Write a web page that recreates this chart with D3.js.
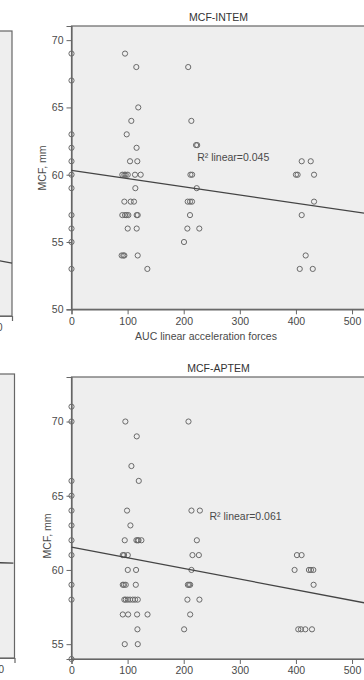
<!DOCTYPE html>
<html>
<head>
<meta charset="utf-8">
<script src="https://cdn.jsdelivr.net/npm/d3@7"></script>
<style>
  body { margin: 0; background: #fff; }
  svg { display: block; font-family: "Liberation Sans", Arial, sans-serif; }
</style>
</head>
<body>
<div id="chart"></div>
<script>
// MCF vs AUC linear acceleration forces (x, MCF mm)
var intemPoints = [
  [0,69],[0,67],[0,63],[0,62],[0,61],[0,60],[0,59],[0,57],[0,56],[0,55],[0,53],
  [95.4,69],[115.5,68],[119,65],[106.6,64],[98.4,63],[116,62],[104.3,61],[117.3,61],
  [90.6,60],[94.2,60],[96.6,60],[100.2,60],[113.2,60],[123.3,60],
  [113.8,59],[94.2,58],[105.5,58],[111.4,58],
  [90.6,57],[95.4,57],[98.4,57],[101.3,57],[116.2,57],[118,57],
  [100.2,56],[116.2,56],[89.4,54],[92.4,54],[94.2,54],[118,54],[135.2,53],
  [208,68],[213.6,64],[222,62.2],[224,62.2],[212,60],[215,60],[223.2,59],
  [207.1,58],[211.2,58],[214.8,58],[211.2,57],[206.5,56],[227.8,56],[200.5,55],
  [410.3,61],[426.4,61],[400,60],[403,60],[432.3,60],[432.3,58],[410.3,57],
  [417.4,54],[406.8,53],[430,53]
];
var aptemPoints = [
  [0,71],[0,70],[0,66],[0,65],[0,64],[0,63],[0,62],[0,61],[0,59],[0,58],[0,54],
  [96,70],[208.5,70],[116.3,69],[106.8,67],[119.9,66],[99,64],[213.8,64],[228.8,64],
  [105,63],[94.9,62],[115.7,62],[118.1,62],[119.5,62],[124.6,62],[223.4,62],
  [91.4,61],[93.7,61],[100.3,61],[215.6,61],[227,61],
  [100.3,60],[115.1,60],[213.8,60],
  [91.4,59],[93.5,59],[96.7,59],[114.6,59],[207.4,59],[209.5,59],[211.5,59],
  [94.2,58],[96.7,58],[100.3,58],[104.4,58],[109.2,58],[113.3,58],[118.1,58],[206.6,58],[228,58],
  [91.4,57],[100.9,57],[116.9,57],[135.5,57],[211.5,57],
  [117.5,56],[200.7,56],[94.9,55],[118.1,55],
  [401.8,61],[410.1,61],[397.6,60],[423.2,60],[426.8,60],[431,60],[431.5,59],
  [404.2,56],[409,56],[416.7,56],[428.6,56]
];
// linear fit endpoints [x, MCF]
var intemFit = [[0,60.32],[524,57.13]];
var aptemFit = [[0,61.54],[524,57.77]];
var xTicks = [0,100,200,300,400,500];
var intemTicks = [50,55,60,65,70];
var aptemTicks = [55,60,65,70];
// neighbouring panels cut off at the left edge
var leftTicks = [500];
var leftFitTop = [[480,54.3],[534,53.9]];
var leftFitBottom = [[480,60.4],[534,60.35]];

var W = 364, H = 680;
var svg = d3.select("#chart").append("svg").attr("width", W).attr("height", H);

var axisCol = "#666", textCol = "#4a4a4a", bg = "#eeeeee";

function drawPanel(p) {
  var x = d3.scaleLinear().domain([0, p.xMax]).range([p.left, p.right]);
  var y = d3.scaleLinear().domain(p.yDomain).range([p.bottom, p.top]);
  var g = svg.append("g");

  g.append("rect").attr("x", p.left).attr("y", p.top)
    .attr("width", p.right - p.left).attr("height", p.bottom - p.top)
    .attr("fill", bg).attr("stroke", axisCol).attr("stroke-width", 1.2);

  if (p.title) {
    g.append("text").attr("x", (p.left + p.right) / 2).attr("y", p.top - 5)
      .attr("text-anchor", "middle").attr("font-size", 10.5).attr("fill", "#333")
      .text(p.title);
  }

  var xa = g.append("g").attr("transform", "translate(0," + p.bottom + ")")
    .call(d3.axisBottom(x).tickValues(p.xTicks).tickSize(5).tickPadding(3));
  var ya = g.append("g").attr("transform", "translate(" + p.left + ",0)")
    .call(d3.axisLeft(y).tickValues(p.yTicks).tickSize(5).tickPadding(3));
  [xa, ya].forEach(function (a) {
    a.select(".domain").attr("stroke", axisCol).attr("stroke-width", 1.2);
    a.selectAll(".tick line").attr("stroke", axisCol).attr("stroke-width", 1);
    a.selectAll(".tick text").attr("fill", textCol).attr("font-size", 10.5)
      .attr("font-family", "Liberation Sans, Arial, sans-serif");
  });

  if (p.points) {
    g.append("g").selectAll("circle").data(p.points).join("circle")
      .attr("cx", function (d) { return x(d[0]); })
      .attr("cy", function (d) { return y(d[1]); })
      .attr("r", 2.6).attr("fill", "none").attr("stroke", "#6a6a6a").attr("stroke-width", 1);
  }

  var line = d3.line().x(function (d) { return x(d[0]); }).y(function (d) { return y(d[1]); });
  g.append("path").attr("d", line(p.fit)).attr("fill", "none")
    .attr("stroke", "#444").attr("stroke-width", 1.3);

  if (p.r2) {
    g.append("text").attr("x", x(p.r2At[0])).attr("y", y(p.r2At[1]))
      .attr("font-size", 10.5).attr("fill", textCol).text(p.r2);
  }
  if (p.yLabel) {
    g.append("text").attr("transform", "translate(" + p.yLabelX + "," + p.yLabelY + ") rotate(-90)")
      .attr("text-anchor", "middle").attr("dy", "0.35em")
      .attr("font-size", 10.5).attr("fill", textCol).text(p.yLabel);
  }
  if (p.xLabel) {
    g.append("text").attr("x", 206).attr("y", p.bottom + 31)
      .attr("text-anchor", "middle").attr("font-size", 10.5).attr("fill", textCol)
      .text(p.xLabel);
  }
}

// cut-off neighbours
drawPanel({ left: -282, right: 12, top: 31, bottom: 316, xMax: 534, xTicks: leftTicks,
  yDomain: [50, 71], yTicks: [], fit: leftFitTop });
drawPanel({ left: -279.5, right: 14.5, top: 374, bottom: 658, xMax: 536, xTicks: leftTicks,
  yDomain: [54, 73], yTicks: [], fit: leftFitBottom });

drawPanel({
  title: "MCF-INTEM", left: 71.5, right: 365.5, top: 26, bottom: 309.3, xMax: 524, xTicks: xTicks,
  yDomain: [50, 71.05], yTicks: intemTicks, points: intemPoints, fit: intemFit,
  r2: "R\u00B2 linear=0.045", r2At: [224, 61.05], yLabel: "MCF, mm", yLabelX: 42.7, yLabelY: 168,
  xLabel: "AUC linear acceleration forces"
});
drawPanel({
  title: "MCF-APTEM", left: 71.5, right: 365.5, top: 377, bottom: 659, xMax: 524, xTicks: xTicks,
  yDomain: [54, 73], yTicks: aptemTicks, points: aptemPoints, fit: aptemFit,
  r2: "R\u00B2 linear=0.061", r2At: [246, 63.35], yLabel: "MCF, mm", yLabelX: 47, yLabelY: 536
});
</script>
</body>
</html>
